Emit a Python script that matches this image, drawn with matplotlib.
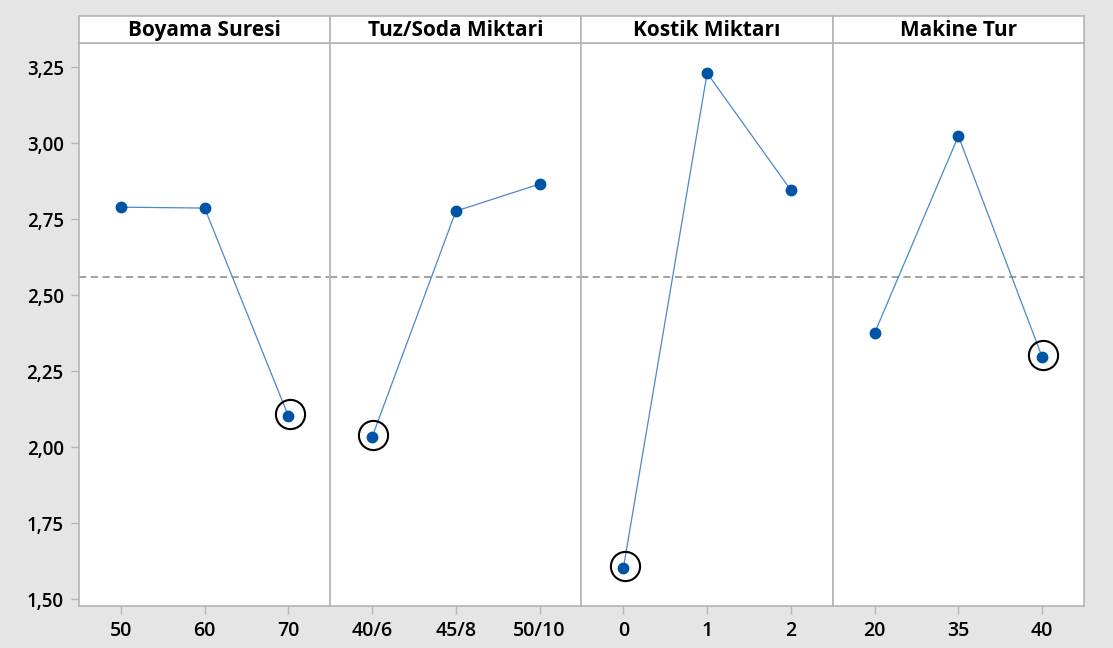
import matplotlib.pyplot as plt
from matplotlib.ticker import FuncFormatter

# --- DATA ---
factors = ["Boyama Suresi", "Tuz/Soda Miktari", "Kostik Miktarı", "Makine Tur"]
levels_boyama = ["50", "60", "70"]
levels_tuz = ["40/6", "45/8", "50/10"]
levels_kostik = ["0", "1", "2"]
levels_makine = ["20", "35", "40"]
means_boyama = [2.789, 2.786, 2.102]
means_tuz = [2.033, 2.776, 2.865]
means_kostik = [1.602, 3.230, 2.845]
means_makine = [2.375, 3.023, 2.296]
best_level = [2, 0, 0, 2]   # circled points
grand_mean = 2.559

all_levels = [levels_boyama, levels_tuz, levels_kostik, levels_makine]
all_means = [means_boyama, means_tuz, means_kostik, means_makine]

plt.rcParams['font.family'] = ['Open Sans', 'DejaVu Sans']

W, H = 1113, 648
fig = plt.figure(figsize=(W / 100, H / 100), dpi=100)
fig.patch.set_facecolor('#e5e5e5')

x0, x1 = 79, 1084
y_bot, y_hdr, y_top = 606, 43, 16
pw = (x1 - x0) / 4
frame_col = '#b4b4b4'

for i in range(4):
    left = (x0 + i * pw) / W
    ax = fig.add_axes([left, 1 - y_bot / H, pw / W, (y_bot - y_hdr) / H])
    hx = fig.add_axes([left, 1 - y_hdr / H, pw / W, (y_hdr - y_top) / H])

    xs = list(range(len(all_levels[i])))
    ax.axhline(grand_mean, color='#9a9a9a', lw=1.3, ls=(0, (4, 2.5)), zorder=1)
    ax.plot(xs, all_means[i], color='#4a88cf', lw=0.9, zorder=2)
    ax.plot(xs, all_means[i], 'o', color='#0054a6', ms=7.5, zorder=3)
    b = best_level[i]
    ax.plot(xs[b] + 0.015, all_means[i][b] + 0.008, 'o', mfc='none', mec='black',
            ms=21, mew=1.5, zorder=4)

    ax.set_xlim(-0.5, 2.5)
    ax.set_ylim(1.477, 3.329)
    ax.set_xticks(xs)
    ax.set_xticklabels(all_levels[i], fontsize=14, fontweight='semibold')
    ax.set_yticks([1.50, 1.75, 2.00, 2.25, 2.50, 2.75, 3.00, 3.25])
    ax.yaxis.set_major_formatter(FuncFormatter(lambda v, p: f"{v:.2f}".replace('.', ',')))
    ax.tick_params(axis='both', color=frame_col, length=6, width=1, pad=5)
    if i > 0:
        ax.tick_params(axis='y', left=False, labelleft=False)
    else:
        for lab in ax.get_yticklabels():
            lab.set_fontsize(13.5)
            lab.set_fontweight('semibold')
    for s in ax.spines.values():
        s.set_color(frame_col)
        s.set_linewidth(1.2)

    hx.set_xticks([])
    hx.set_yticks([])
    for s in hx.spines.values():
        s.set_color(frame_col)
        s.set_linewidth(1.2)
    hx.text(0.5, 0.45, factors[i], ha='center', va='center', fontsize=15,
            fontweight='bold', transform=hx.transAxes)

fig.savefig('out.png', dpi=100, facecolor=fig.get_facecolor())
